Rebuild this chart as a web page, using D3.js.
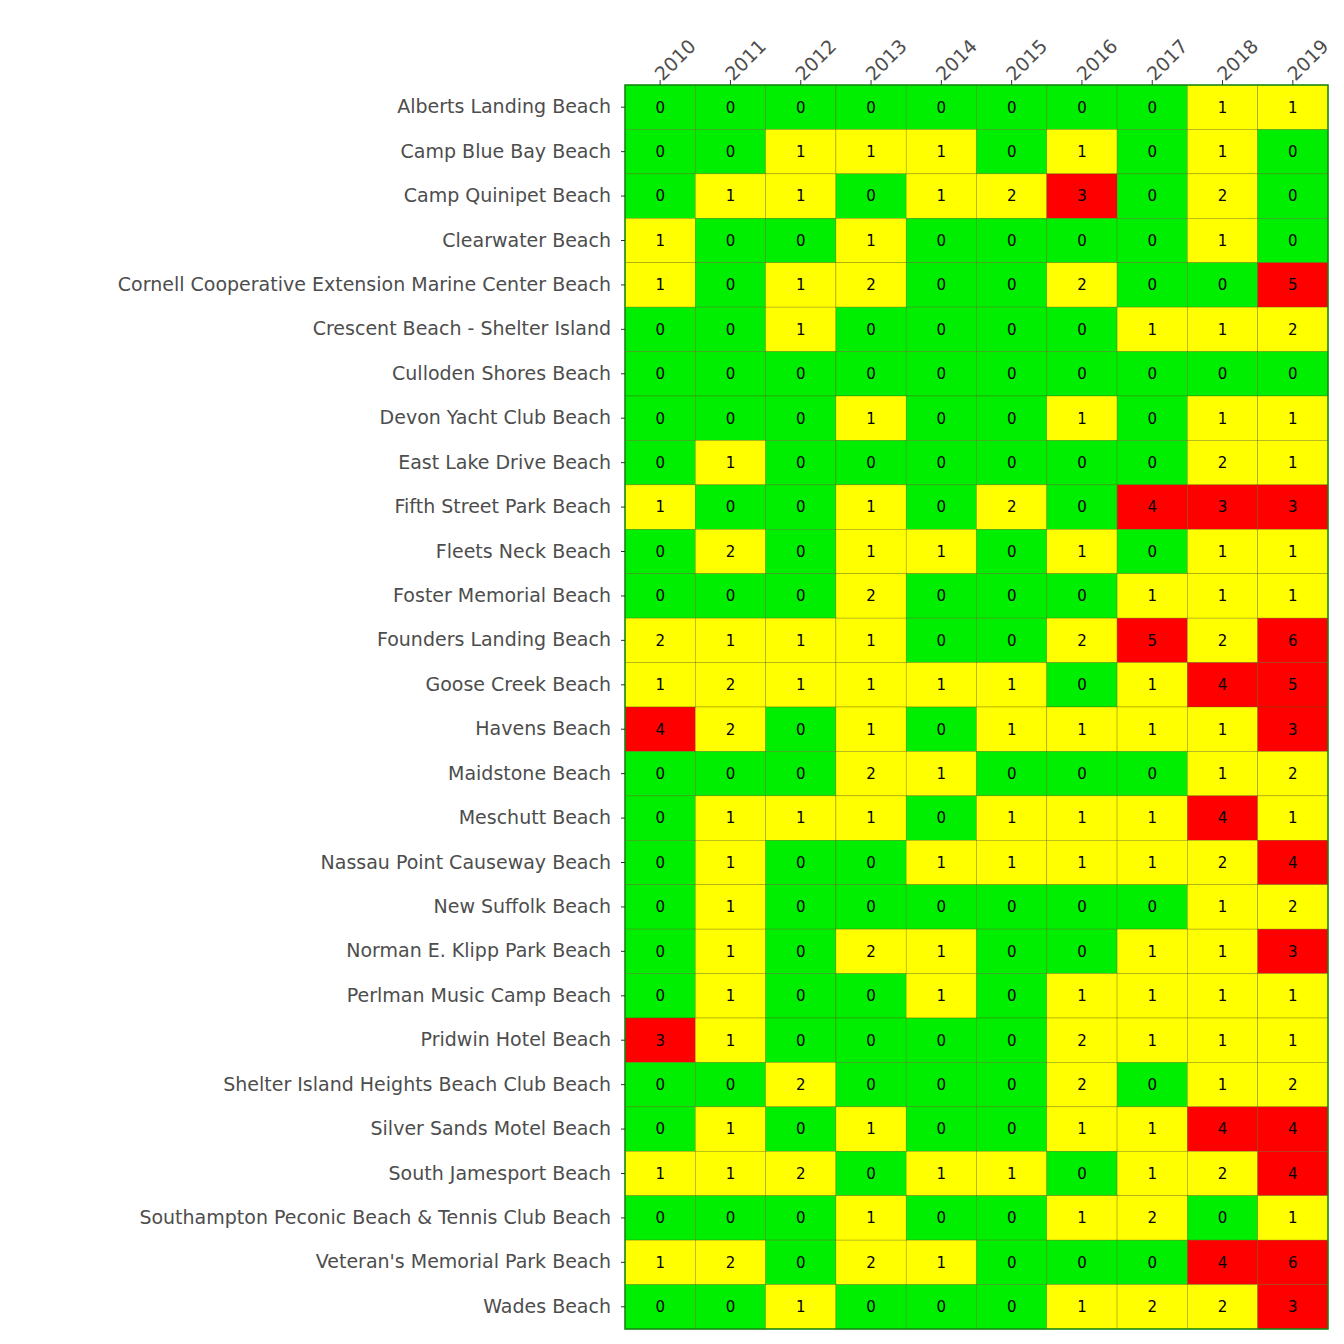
<!DOCTYPE html>
<html>
<head>
<meta charset="utf-8">
<script src="https://cdn.jsdelivr.net/npm/d3@7"></script>
<style>
body { margin: 0; background: #fff; }
</style>
</head>
<body>
<script>
const years = ["2010","2011","2012","2013","2014","2015","2016","2017","2018","2019"];
const beaches = [
  "Alberts Landing Beach","Camp Blue Bay Beach","Camp Quinipet Beach","Clearwater Beach",
  "Cornell Cooperative Extension Marine Center Beach","Crescent Beach - Shelter Island",
  "Culloden Shores Beach","Devon Yacht Club Beach","East Lake Drive Beach","Fifth Street Park Beach",
  "Fleets Neck Beach","Foster Memorial Beach","Founders Landing Beach","Goose Creek Beach",
  "Havens Beach","Maidstone Beach","Meschutt Beach","Nassau Point Causeway Beach",
  "New Suffolk Beach","Norman E. Klipp Park Beach","Perlman Music Camp Beach","Pridwin Hotel Beach",
  "Shelter Island Heights Beach Club Beach","Silver Sands Motel Beach","South Jamesport Beach",
  "Southampton Peconic Beach & Tennis Club Beach","Veteran's Memorial Park Beach","Wades Beach"
];
const counts = [
  [0,0,0,0,0,0,0,0,1,1],
  [0,0,1,1,1,0,1,0,1,0],
  [0,1,1,0,1,2,3,0,2,0],
  [1,0,0,1,0,0,0,0,1,0],
  [1,0,1,2,0,0,2,0,0,5],
  [0,0,1,0,0,0,0,1,1,2],
  [0,0,0,0,0,0,0,0,0,0],
  [0,0,0,1,0,0,1,0,1,1],
  [0,1,0,0,0,0,0,0,2,1],
  [1,0,0,1,0,2,0,4,3,3],
  [0,2,0,1,1,0,1,0,1,1],
  [0,0,0,2,0,0,0,1,1,1],
  [2,1,1,1,0,0,2,5,2,6],
  [1,2,1,1,1,1,0,1,4,5],
  [4,2,0,1,0,1,1,1,1,3],
  [0,0,0,2,1,0,0,0,1,2],
  [0,1,1,1,0,1,1,1,4,1],
  [0,1,0,0,1,1,1,1,2,4],
  [0,1,0,0,0,0,0,0,1,2],
  [0,1,0,2,1,0,0,1,1,3],
  [0,1,0,0,1,0,1,1,1,1],
  [3,1,0,0,0,0,2,1,1,1],
  [0,0,2,0,0,0,2,0,1,2],
  [0,1,0,1,0,0,1,1,4,4],
  [1,1,2,0,1,1,0,1,2,4],
  [0,0,0,1,0,0,1,2,0,1],
  [1,2,0,2,1,0,0,0,4,6],
  [0,0,1,0,0,0,1,2,2,3]
];

const cells = [];
beaches.forEach((b, i) => years.forEach((y, j) => cells.push({beach: b, year: y, value: counts[i][j]})));

const margin = {top: 85, right: 16, bottom: 15, left: 625};
const width = 1344 - margin.left - margin.right;
const height = 1344 - margin.top - margin.bottom;

const svg = d3.select("body").append("svg")
  .attr("width", 1344).attr("height", 1344)
  .append("g")
  .attr("transform", `translate(${margin.left},${margin.top})`);

const x = d3.scaleBand().domain(years).range([0, width]);
const y = d3.scaleBand().domain(beaches).range([0, height]);
const color = v => v === 0 ? "#00ee00" : v <= 2 ? "#ffff00" : "#ff0000";

svg.selectAll("rect.cell").data(cells).enter().append("rect")
  .attr("class", "cell")
  .attr("x", d => x(d.year)).attr("y", d => y(d.beach))
  .attr("width", x.bandwidth()).attr("height", y.bandwidth())
  .attr("fill", d => color(d.value))
  .attr("stroke", "#555500").attr("stroke-opacity", 0.6).attr("stroke-width", 0.5);

svg.selectAll("text.val").data(cells).enter().append("text")
  .attr("class", "val")
  .attr("x", d => x(d.year) + x.bandwidth() / 2)
  .attr("y", d => y(d.beach) + y.bandwidth() / 2)
  .attr("text-anchor", "middle").attr("dy", "0.36em")
  .style("font", "15px 'DejaVu Sans'")
  .text(d => d.value);

svg.append("rect").attr("width", width).attr("height", height)
  .attr("fill", "none").attr("stroke", "#118811").attr("stroke-width", 1.5);

// y labels
const ya = svg.append("g").call(d3.axisLeft(y).tickSize(4).tickPadding(10));
ya.select(".domain").remove();
ya.selectAll("line").attr("stroke", "#333");
ya.selectAll("text").style("font", "19px 'DejaVu Sans'").attr("fill", "#4d4d4d");

// x labels on top
const xa = svg.append("g").call(d3.axisTop(x).tickSize(5).tickPadding(3));
xa.select(".domain").remove();
xa.selectAll("line").attr("stroke", "#333");
xa.selectAll("text")
  .style("font", "19px 'DejaVu Sans'").attr("fill", "#4d4d4d")
  .attr("text-anchor", "start")
  .attr("transform", "translate(-2,-8) rotate(-45)")
  .attr("dx", 0).attr("dy", "0.35em").attr("y", 0).attr("x", 0);
</script>
</body>
</html>
